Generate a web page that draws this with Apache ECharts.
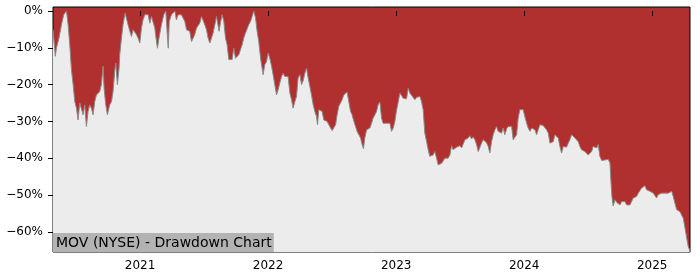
<!DOCTYPE html>
<html>
<head>
<meta charset="utf-8">
<script src="https://cdn.jsdelivr.net/npm/echarts@6/dist/echarts.min.js"></script>
<style>html,body{margin:0;padding:0;background:#fff}#c{width:700px;height:280px}</style>
</head>
<body>
<div id="c"></div>
<script>
var chartTitle = "MOV (NYSE) - Drawdown Chart";
var yearTicks = [2021, 2022, 2023, 2024, 2025];
var pctTicks = [0, -10, -20, -30, -40, -50, -60];
// decimal years
var years = [
2020.320,2020.330,2020.338,2020.347,2020.367,2020.386,2020.404,2020.425,2020.438,2020.451,
2020.464,2020.477,2020.490,2020.503,2020.516,2020.529,2020.542,2020.555,2020.568,2020.581,
2020.594,2020.607,2020.620,2020.633,2020.646,2020.659,2020.685,2020.698,2020.711,2020.719,
2020.732,2020.745,2020.763,2020.777,2020.789,2020.802,2020.810,2020.823,2020.836,2020.841,
2020.855,2020.867,2020.883,2020.894,2020.906,2020.920,2020.933,2020.945,2020.959,2020.972,
2020.984,2020.998,2021.011,2021.023,2021.037,2021.050,2021.063,2021.076,2021.089,2021.102,
2021.115,2021.128,2021.136,2021.148,2021.167,2021.185,2021.201,2021.211,2021.220,2021.228,
2021.245,2021.258,2021.271,2021.284,2021.297,2021.310,2021.323,2021.336,2021.349,2021.363,
2021.375,2021.388,2021.402,2021.414,2021.427,2021.441,2021.453,2021.466,2021.480,2021.492,
2021.505,2021.519,2021.531,2021.545,2021.558,2021.570,2021.584,2021.597,2021.609,2021.617,
2021.630,2021.641,2021.654,2021.667,2021.680,2021.693,2021.706,2021.719,2021.732,2021.745,
2021.758,2021.771,2021.784,2021.797,2021.810,2021.823,2021.836,2021.849,2021.863,2021.875,
2021.888,2021.902,2021.914,2021.927,2021.941,2021.953,2021.961,2021.974,2021.988,2022.000,
2022.013,2022.027,2022.039,2022.052,2022.066,2022.078,2022.091,2022.105,2022.117,2022.130,
2022.156,2022.170,2022.183,2022.195,2022.209,2022.222,2022.234,2022.248,2022.261,2022.273,
2022.287,2022.300,2022.313,2022.326,2022.339,2022.352,2022.365,2022.378,2022.386,2022.396,
2022.409,2022.422,2022.435,2022.448,2022.461,2022.474,2022.488,2022.500,2022.513,2022.527,
2022.539,2022.552,2022.566,2022.578,2022.591,2022.605,2022.617,2022.630,2022.644,2022.656,
2022.670,2022.683,2022.695,2022.709,2022.722,2022.734,2022.745,2022.755,2022.769,2022.781,
2022.795,2022.808,2022.820,2022.834,2022.847,2022.859,2022.873,2022.886,2022.898,2022.912,
2022.925,2022.938,2022.951,2022.964,2022.977,2022.990,2023.003,2023.016,2023.029,2023.042,
2023.055,2023.068,2023.081,2023.094,2023.107,2023.120,2023.133,2023.146,2023.159,2023.172,
2023.185,2023.198,2023.211,2023.224,2023.238,2023.250,2023.263,2023.277,2023.289,2023.302,
2023.316,2023.328,2023.341,2023.355,2023.367,2023.380,2023.394,2023.406,2023.420,2023.433,
2023.445,2023.459,2023.472,2023.484,2023.498,2023.511,2023.523,2023.537,2023.550,2023.563,
2023.576,2023.589,2023.602,2023.615,2023.628,2023.641,2023.654,2023.667,2023.680,2023.693,
2023.706,2023.719,2023.732,2023.745,2023.758,2023.771,2023.784,2023.797,2023.810,2023.823,
2023.836,2023.849,2023.863,2023.875,2023.888,2023.902,2023.914,2023.927,2023.941,2023.953,
2023.966,2023.980,2023.992,2024.005,2024.019,2024.031,2024.045,2024.058,2024.070,2024.084,
2024.097,2024.109,2024.123,2024.136,2024.148,2024.162,2024.175,2024.188,2024.201,2024.214,
2024.227,2024.240,2024.253,2024.266,2024.279,2024.292,2024.305,2024.318,2024.331,2024.344,
2024.357,2024.370,2024.383,2024.396,2024.409,2024.422,2024.435,2024.448,2024.461,2024.474,
2024.488,2024.500,2024.513,2024.527,2024.539,2024.552,2024.566,2024.578,2024.591,2024.605,
2024.617,2024.630,2024.644,2024.656,2024.670,2024.677,2024.685,2024.695,2024.709,2024.722,
2024.734,2024.748,2024.761,2024.773,2024.787,2024.800,2024.813,2024.826,2024.839,2024.852,
2024.865,2024.878,2024.891,2024.904,2024.917,2024.930,2024.943,2024.956,2024.969,2024.982,
2024.995,2025.008,2025.021,2025.034,2025.047,2025.060,2025.073,2025.086,2025.099,2025.113,
2025.125,2025.138,2025.152,2025.164,2025.177,2025.191,2025.203,2025.216,2025.230,2025.242,
2025.256,2025.269,2025.281,2025.291
];
// drawdown in percent
var drawdown = [
-5,-9,-12.3,-10,-7.3,-3.7,-1,0,-3.7,-9.2,
-16,-20,-24.6,-26.4,-29.6,-25,-25.5,-28.2,-25.5,-31.4,
-27.3,-25.5,-26.4,-28.2,-24.6,-22.8,-21.9,-20,-15,-21,
-25.5,-28.2,-25.5,-24.6,-21.9,-16.4,-14.1,-20,-15.5,-11.9,
-7.3,-3.7,-0.5,-1,-3.7,-5.5,-6.9,-5.1,-5.5,-6.4,
-7.3,-8.7,-4.6,-2.4,-1,-1.5,-1,-3.3,-1.5,-1.9,
-4.6,-8.3,-10.1,-7.3,-3.7,-1,0,-5.5,-10.1,-2.8,
-1,-1.5,0,-2.4,-1,-1.5,-1,-0.5,-2.8,-5.1,
-4.6,-5.5,-8.3,-7.9,-6.4,-4.6,-5.1,-3.3,-1.5,-1.9,
-3.7,-5.1,-7.3,-8.7,-7.3,-6,-3.7,-1.5,-1,-5.5,
-2.8,-1,-2.8,-7.3,-9.2,-13.2,-13,-13.2,-10.1,-12.8,
-13.2,-11.9,-10.5,-9.2,-7.3,-6,-5.5,-3.7,-2.8,-1.5,
0,-1.9,-5.5,-8.3,-12.8,-15.5,-17.3,-14.6,-13.7,-11.4,
-12.8,-15,-17.3,-20,-22.8,-21.4,-19.6,-17.8,-16.9,-17.8,
-17.8,-22.3,-24.1,-26.4,-24.6,-23.2,-18.2,-17.3,-20,-19,
-16.9,-15.5,-18.2,-20.5,-22.8,-25.5,-27.3,-28.7,-30.9,-26.8,
-26.8,-27.3,-29.6,-30,-30,-30.5,-31.8,-32.5,-32.3,-30.9,
-28.2,-25.9,-25.5,-24.1,-22.8,-22.3,-22,-24.6,-27.3,-28.2,
-30,-31.4,-32.7,-33.2,-34.5,-36.3,-37.4,-34.5,-32.3,-32.5,
-31.8,-30.5,-29.1,-28.2,-27.3,-25.5,-24.7,-29.1,-30.5,-30,
-30.5,-30,-30.5,-32.7,-31.8,-30,-27,-24.8,-22.3,-22.8,
-23.7,-23.2,-23.9,-21,-22.3,-22.9,-23.5,-24.1,-23.5,-23.7,
-23.2,-24.6,-26.8,-33.2,-35.5,-37.7,-39.5,-39.6,-39.1,-38.2,
-40,-41.8,-41.3,-41.4,-40.9,-40,-40.2,-40,-39.1,-36.6,
-37.7,-37.2,-37,-37.2,-36.6,-37.2,-36.8,-35,-35,-34.5,
-33.9,-34.8,-34.2,-35,-36.3,-38.2,-37.7,-35.9,-35,-35.5,
-35.8,-36.8,-38.6,-35.5,-33.6,-32.3,-31.4,-32.7,-32.5,-33.2,
-31.8,-33.6,-32,-31.4,-31.8,-31.4,-35,-35.5,-33.6,-29.1,
-26.8,-26.4,-26.8,-28.7,-30.5,-31.8,-32.7,-31.8,-32.3,-32.3,
-33.6,-32.3,-30.9,-31.1,-31.1,-31.1,-32.3,-33.2,-35.9,-35.9,
-35.5,-33.6,-33.6,-34.5,-36.8,-38.6,-36.8,-37.2,-37,-35.9,
-35,-33.6,-34.1,-34.5,-35,-35.5,-36.8,-37.7,-37.7,-38.2,
-38.6,-39.1,-39.1,-38.2,-36.8,-37.2,-37.2,-36.3,-39.5,-40.6,
-40.9,-40.5,-40,-40.3,-41.3,-45.9,-50.4,-53,-51.3,-52,
-52,-52.7,-51.8,-52.2,-51.8,-52.7,-52.2,-52.7,-52.2,-50.8,
-51.3,-50.4,-49.5,-49.5,-48.1,-47.7,-47.5,-48.6,-49,-49,
-49.5,-49.5,-49.9,-50.8,-49.9,-50.4,-49.5,-49.9,-49.5,-49.9,
-49.5,-49,-49,-50.4,-52.2,-54,-54.5,-54.5,-55,-56.3,
-59,-61.7,-64,-64.9
];

var pts = years.map(function (y, i) { return [y, drawdown[i]]; });
var FONT = 'DejaVu Sans';
var chart = echarts.init(document.getElementById('c'), null, {renderer: 'canvas'});
chart.setOption({
  animation: false,
  backgroundColor: '#ffffff',
  title: {
    text: chartTitle,
    left: 53, bottom: 28,
    backgroundColor: '#b3b3b3',
    padding: [2, 2, 1, 3],
    textStyle: {fontFamily: FONT, fontSize: 14, fontWeight: 'normal', color: '#000', lineHeight: 16}
  },
  grid: {
    left: 53, top: 7, width: 637, height: 245,
    show: true, backgroundColor: '#b03030', borderColor: '#000', borderWidth: 1
  },
  xAxis: {
    type: 'value', min: 2020.320, max: 2025.295,
    axisLine: {show: false},
    splitLine: {show: false},
    axisTick: {show: true, length: 5, lineStyle: {color: '#000'}, customValues: yearTicks},
    axisLabel: {fontFamily: FONT, fontSize: 12, color: '#000', margin: 8, customValues: yearTicks,
      formatter: function (v) { return String(Math.round(v)); }}
  },
  yAxis: {
    type: 'value', min: -65.5, max: 1.1,
    axisLine: {show: false},
    splitLine: {show: false},
    axisTick: {show: true, length: 5, lineStyle: {color: '#000'}, customValues: pctTicks},
    axisLabel: {fontFamily: FONT, fontSize: 12, color: '#000', margin: 10, customValues: pctTicks,
      formatter: function (v) { return (v < 0 ? '\u2212' + Math.abs(v) : String(v)) + '%'; }}
  },
  series: [{
    type: 'line',
    data: pts,
    showSymbol: false,
    symbol: 'none',
    smooth: false,
    sampling: null,
    lineStyle: {color: '#8a8a8a', width: 1},
    areaStyle: {color: '#ececec', opacity: 1, origin: 'start'},
    z: 2
  }]
});
</script>
</body>
</html>
